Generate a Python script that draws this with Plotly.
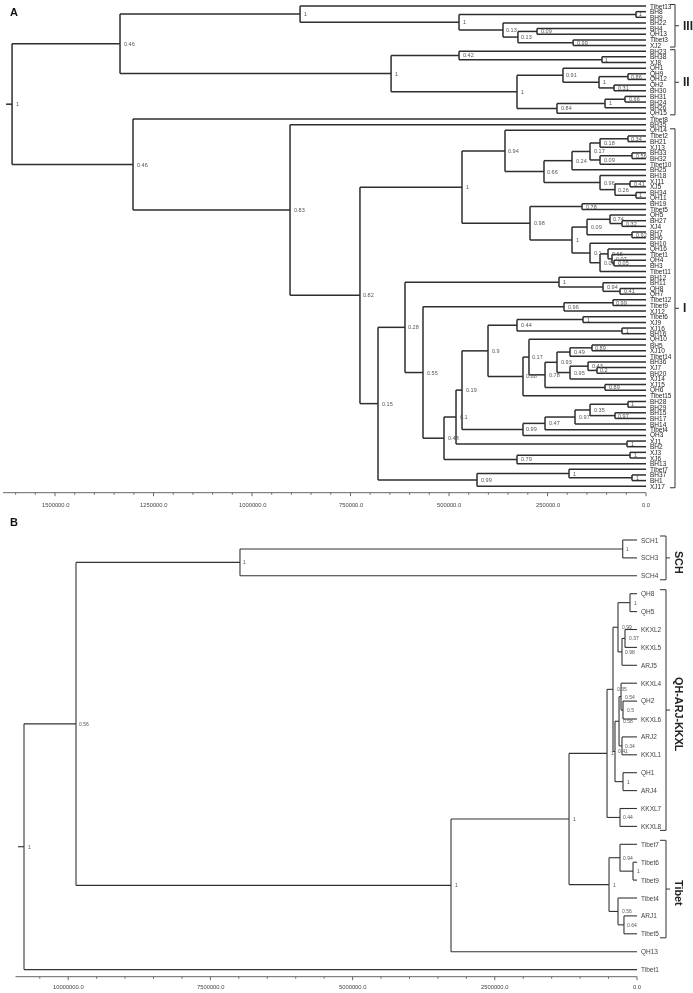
import plotly.graph_objects as go

# ---------------- Panel A data ----------------
leaves_a = ["Tibet13", "BH8", "BH9", "BH22", "BH4", "QH13", "Tibet3", "XJ2", "BH23", "BH38", "XJ8",
            "QH1", "QH9", "QH12", "QH2", "BH30", "BH31", "BH24", "BH26", "QH15", "Tibet8", "BH35",
            "QH14", "Tibet2", "BH21", "XJ13", "BH33", "BH32", "Tibet10", "BH25", "BH18", "XJ11", "XJ5",
            "BH34", "QH11", "BH19", "Tibet5", "QH5", "BH27", "XJ4", "BH7", "BH6", "BH10", "QH16",
            "Tibet1", "QH4", "BH3", "Tibet11", "BH12", "BH11", "QH8", "QH7", "Tibet12", "Tibet9",
            "XJ12", "Tibet6", "XJ9", "XJ16", "BH16", "QH10", "BH5", "XJ10", "Tibet14", "BH36", "XJ7",
            "BH20", "XJ14", "XJ15", "QH6", "Tibet15", "BH28", "BH29", "BH15", "BH17", "BH14", "Tibet4",
            "QH3", "XJ1", "BH2", "XJ3", "XJ6", "BH13", "Tibet7", "BH37", "BH1", "XJ17"]

# internal nodes (children listed before parents): name, children, height, support
nodes_a = [
    ("a1", ["BH8", "BH9"], 25400, "1"),
    ("a2", ["BH4", "QH13"], 276600, "0.09"),
    ("a3", ["Tibet3", "XJ2"], 185000, "0.99"),
    ("a4", ["a2", "a3"], 325000, "0.13"),
    ("a5", ["BH22", "a4"], 363000, "0.13"),
    ("a6", ["a1", "a5"], 474600, "1"),
    ("a7", ["Tibet13", "a6"], 878000, "1"),
    ("a8", ["BH38", "XJ8"], 111700, "1"),
    ("a9", ["BH23", "a8"], 474600, "0.42"),
    ("a10", ["QH9", "QH12"], 45700, "0.86"),
    ("a11", ["QH2", "BH30"], 81200, "0.31"),
    ("a12", ["a10", "a11"], 119300, "1"),
    ("a13", ["QH1", "a12"], 210700, "0.91"),
    ("a14", ["BH31", "BH24"], 53300, "0.66"),
    ("a15", ["a14", "BH26"], 104000, "1"),
    ("a16", ["a15", "QH15"], 225900, "0.84"),
    ("a17", ["a13", "a16"], 327400, "1"),
    ("a18", ["a9", "a17"], 647000, "1"),
    ("a19", ["a7", "a18"], 1335000, "0.46"),
    ("b1", ["Tibet2", "BH21"], 45700, "0.34"),
    ("b2", ["b1", "XJ13"], 116700, "0.18"),
    ("b3", ["BH33", "BH32"], 35500, "0.56"),
    ("b4", ["b3", "Tibet10"], 116700, "0.09"),
    ("b5", ["b2", "b4"], 142100, "0.17"),
    ("b6", ["b5", "BH25"], 187800, "0.24"),
    ("b7", ["XJ11", "XJ5"], 40600, "0.41"),
    ("b8", ["BH34", "QH11"], 25400, "1"),
    ("b9", ["b7", "b8"], 78700, "0.26"),
    ("b10", ["BH18", "b9"], 116700, "0.96"),
    ("b11", ["b6", "b10"], 258900, "0.66"),
    ("b12", ["QH14", "b11"], 357900, "0.94"),
    ("b13", ["BH19", "Tibet5"], 162400, "0.78"),
    ("b14", ["BH27", "XJ4"], 60900, "0.32"),
    ("b15", ["QH5", "b14"], 91400, "0.74"),
    ("b16", ["BH7", "BH6"], 35500, "0.92"),
    ("b17", ["b15", "b16"], 149700, "0.09"),
    ("b18", ["QH4", "BH3"], 81200, "0.05"),
    ("b19", ["Tibet1", "b18"], 86300, "0.07"),
    ("b20", ["QH16", "b19"], 96400, "0.65"),
    ("b21", ["b20", "Tibet11"], 116700, "0.05"),
    ("b22", ["BH10", "b21"], 142100, "0.1"),
    ("b23", ["b17", "b22"], 187800, "1"),
    ("b24", ["b13", "b23"], 294400, "0.98"),
    ("b25", ["b12", "b24"], 467000, "1"),
    ("c1", ["QH8", "QH7"], 66000, "0.41"),
    ("c2", ["BH11", "c1"], 109100, "0.94"),
    ("c3", ["BH12", "c2"], 220800, "1"),
    ("c4", ["Tibet12", "Tibet9"], 83800, "0.99"),
    ("c5", ["c4", "XJ12"], 208100, "0.96"),
    ("c6", ["Tibet6", "XJ9"], 159900, "1"),
    ("c7", ["XJ16", "BH16"], 60900, "1"),
    ("c8", ["c6", "c7"], 327400, "0.44"),
    ("c9", ["BH5", "XJ10"], 137100, "0.89"),
    ("c10", ["c9", "Tibet14"], 192900, "0.49"),
    ("c11", ["XJ7", "BH20"], 124400, "0.2"),
    ("c12", ["BH36", "c11"], 147200, "0.43"),
    ("c13", ["c12", "XJ14"], 192900, "0.95"),
    ("c14", ["c10", "c13"], 225900, "0.93"),
    ("c15", ["XJ15", "QH6"], 104000, "0.89"),
    ("c16", ["c14", "c15"], 256300, "0.78"),
    ("c17", ["QH10", "c16"], 297000, "0.17"),
    ("c18", ["c17", "Tibet15"], 312200, "0.88"),
    ("c19", ["c8", "c18"], 401000, "0.9"),
    ("c20", ["BH28", "BH29"], 45700, "1"),
    ("c21", ["BH15", "BH17"], 78700, "0.97"),
    ("c22", ["c20", "c21"], 142100, "0.35"),
    ("c23", ["c22", "BH14"], 180200, "0.97"),
    ("c24", ["c23", "Tibet4"], 256300, "0.47"),
    ("c25", ["c24", "QH3"], 312200, "0.99"),
    ("c26", ["c19", "c25"], 467000, "0.19"),
    ("c27", ["XJ1", "BH2"], 48200, "1"),
    ("c28", ["c26", "c27"], 482200, "0.1"),
    ("c29", ["XJ3", "XJ6"], 40600, "1"),
    ("c30", ["c29", "BH13"], 327400, "0.79"),
    ("c31", ["c28", "c30"], 512700, "0.48"),
    ("c32", ["c5", "c31"], 566000, "0.55"),
    ("c33", ["c3", "c32"], 611700, "0.28"),
    ("c34", ["BH37", "BH1"], 35500, "1"),
    ("c35", ["Tibet7", "c34"], 195400, "1"),
    ("c36", ["c35", "XJ17"], 428900, "0.99"),
    ("c37", ["c33", "c36"], 680200, "0.15"),
    ("c38", ["b25", "c37"], 726000, "0.82"),
    ("c39", ["BH35", "c38"], 903500, "0.83"),
    ("c40", ["Tibet8", "c39"], 1302000, "0.46"),
    ("rootA", ["a19", "c40"], 1609000, "1"),
]
ticks_a = [1500000, 1250000, 1000000, 750000, 500000, 250000, 0]
tick_labels_a = ["1500000.0", "1250000.0", "1000000.0", "750000.0", "500000.0", "250000.0", "0.0"]
minor_step_a = 50000
clades_a = [("III", "Tibet13", "XJ2"), ("II", "BH23", "QH15"), ("I", "QH14", "XJ17")]

# ---------------- Panel B data ----------------
leaves_b = ["SCH1", "SCH3", "SCH4", "QH8", "QH5", "KKXL2", "KKXL5", "ARJ5", "KKXL4", "QH2", "KKXL6",
            "ARJ2", "KKXL1", "QH1", "ARJ4", "KKXL7", "KKXL8", "Tibet7", "Tibet6", "Tibet9", "Tibet4",
            "ARJ1", "Tibet5", "QH13", "Tibet1"]
nodes_b = [
    ("s1", ["SCH1", "SCH3"], 251000, "1"),
    ("s2", ["s1", "SCH4"], 6980000, "1"),
    ("q1", ["QH8", "QH5"], 123000, "1"),
    ("q2", ["KKXL2", "KKXL5"], 211000, "0.37"),
    ("q3", ["q2", "ARJ5"], 264000, "0.98"),
    ("q4", ["q1", "q3"], 334000, "0.99"),
    ("q5", ["QH2", "KKXL6"], 246000, "0.5"),
    ("q6", ["KKXL4", "q5"], 281000, "0.54"),
    ("q7", ["ARJ2", "KKXL1"], 264000, "0.34"),
    ("q8", ["q6", "q7"], 316000, "0.58"),
    ("q9", ["QH1", "ARJ4"], 246000, "1"),
    ("q10", ["q8", "q9"], 387000, "0.41"),
    ("q11", ["q4", "q10"], 422000, "0.35"),
    ("q12", ["KKXL7", "KKXL8"], 299000, "0.44"),
    ("q13", ["q11", "q12"], 527000, "1"),
    ("t1", ["Tibet6", "Tibet9"], 70000, "1"),
    ("t2", ["Tibet7", "t1"], 299000, "0.94"),
    ("t3", ["ARJ1", "Tibet5"], 229000, "0.64"),
    ("t4", ["Tibet4", "t3"], 334000, "0.56"),
    ("t5", ["t2", "t4"], 492000, "1"),
    ("m1", ["q13", "t5"], 1195000, "1"),
    ("m2", ["m1", "QH13"], 3270000, "1"),
    ("m3", ["s2", "m2"], 9863000, "0.56"),
    ("rootB", ["m3", "Tibet1"], 10777000, "1"),
]
ticks_b = [10000000, 7500000, 5000000, 2500000, 0]
tick_labels_b = ["10000000.0", "7500000.0", "5000000.0", "2500000.0", "0.0"]
minor_step_b = 500000
clades_b = [("SCH", "SCH1", "SCH4"), ("QH-ARJ-KKXL", "QH8", "KKXL8"), ("Tibet", "Tibet7", "Tibet5")]

# ---------------- geometry (pixels) ----------------
W, H = 693, 993
FONT = "Liberation Sans, Arial, sans-serif"
A_ZERO, A_PXU = 646.0, 98.5 / 250000.0
A_Y0, A_DY = 6.0, 5.65
B_ZERO, B_PXU = 637.0, 142.2 / 2500000.0
B_Y0, B_DY = 540.0, 17.9


def layout_tree(leaves, nodes):
    ypos = {n: float(i) for i, n in enumerate(leaves)}
    xpos = {n: 0.0 for n in leaves}
    for name, kids, h, s in nodes:
        ypos[name] = (ypos[kids[0]] + ypos[kids[-1]]) / 2.0
        xpos[name] = h
    return xpos, ypos


def segments(nodes, xpos, ypos):
    xs, ys = [], []
    for name, kids, h, s in nodes:
        xs += [h, h, None]
        ys += [ypos[kids[0]], ypos[kids[-1]], None]
        for k in kids:
            xs += [h, xpos[k], None]
            ys += [ypos[k], ypos[k], None]
    return xs, ys


fig = go.Figure()
annotations = []


def draw_panel(leaves, nodes, ticks, tick_labels, minor_step, clades, xref, yref, y0,
               zero, pxu, dy, axis_px_y, axis_left_px, leaf_font, sup_font, lw, lcol,
               label_col, stub_px, tick_font, ax_label_dy, bracket, rotate):
    xpos, ypos = layout_tree(leaves, nodes)
    xs, ys = segments(nodes, xpos, ypos)
    root = nodes[-1]
    xs += [root[2], root[2] + stub_px / pxu, None]
    ys += [ypos[root[0]], ypos[root[0]], None]
    fig.add_trace(go.Scatter(x=xs, y=ys, mode="lines", xaxis=xref, yaxis=yref,
                             line=dict(color=lcol, width=lw), hoverinfo="skip", showlegend=False))
    for n in leaves:
        annotations.append(dict(x=0, y=ypos[n], xref=xref, yref=yref, text=n, showarrow=False,
                                xanchor="left", yanchor="middle", xshift=1.5,
                                font=dict(family=FONT, size=leaf_font, color=label_col)))
    for name, kids, h, s in nodes:
        annotations.append(dict(x=h, y=ypos[name], xref=xref, yref=yref, text=s, showarrow=False,
                                xanchor="left", yanchor="middle", xshift=1.5,
                                font=dict(family=FONT, size=sup_font, color="#555555")))
    ay = (axis_px_y - y0) / dy
    left_val = (zero - axis_left_px) / pxu
    axs, ays = [left_val, 0, None], [ay, ay, None]
    v = 0
    while v <= left_val:
        major = any(abs(v - t) < 1 for t in ticks)
        axs += [v, v, None]
        ays += [ay, ay + (3.5 if major else 2.0) / dy, None]
        v += minor_step
    fig.add_trace(go.Scatter(x=axs, y=ays, mode="lines", xaxis=xref, yaxis=yref,
                             line=dict(color="#666666", width=1), hoverinfo="skip", showlegend=False))
    for t, lab in zip(ticks, tick_labels):
        annotations.append(dict(x=t, y=ay + ax_label_dy / dy, xref=xref, yref=yref, text=lab,
                                showarrow=False, xanchor="center", yanchor="middle",
                                font=dict(family=FONT, size=tick_font, color="#444444")))
    hook0, vline, tick_end, lab_px, pad, bfont, lab_dy = bracket
    bxs, bys = [], []
    for name, first, last in clades:
        y1 = ypos[first] - pad / dy
        y2 = ypos[last] + pad / dy
        xh0 = (zero - hook0) / pxu
        xv = (zero - vline) / pxu
        xt = (zero - tick_end) / pxu
        ym = (y1 + y2) / 2
        bxs += [xh0, xv, xv, xh0, None, xv, xt, None]
        bys += [y1, y1, y2, y2, None, ym, ym, None]
        annotations.append(dict(x=(zero - lab_px) / pxu, y=ym + lab_dy / dy, xref=xref, yref=yref,
                                text="<b>%s</b>" % name,
                                showarrow=False, xanchor="left" if not rotate else "center",
                                yanchor="middle", textangle=90 if rotate else 0,
                                font=dict(family=FONT, size=bfont, color="#222222")))
    fig.add_trace(go.Scatter(x=bxs, y=bys, mode="lines", xaxis=xref, yaxis=yref,
                             line=dict(color="#333333", width=1), hoverinfo="skip", showlegend=False))


draw_panel(leaves_a, nodes_a, ticks_a, tick_labels_a, minor_step_a, clades_a, "x", "y", A_Y0,
           A_ZERO, A_PXU, A_DY, 492.7, 3.0, 6.5, 5.5, 1.5, "#2e2e2e", "#1e1e1e", 6, 5.8, 12,
           (670, 675, 679, 681, 1.5, 12, 0), False)
draw_panel(leaves_b, nodes_b, ticks_b, tick_labels_b, minor_step_b, clades_b, "x2", "y2", B_Y0,
           B_ZERO, B_PXU, B_DY, 976.7, 15.5, 6.5, 5, 1.1, "#333333", "#444444", 6, 5.8, 10.5,
           (660, 666, 670, 679, 4, 10.8, 4), True)

annotations.append(dict(x=0.02, y=1 - 12 / H, xref="paper", yref="paper", text="<b>A</b>", showarrow=False,
                        xanchor="center", yanchor="middle", font=dict(family=FONT, size=11, color="#111111")))
annotations.append(dict(x=0.02, y=1 - 522 / H, xref="paper", yref="paper", text="<b>B</b>", showarrow=False,
                        xanchor="center", yanchor="middle", font=dict(family=FONT, size=11, color="#111111")))

hidden = dict(visible=False, showgrid=False, zeroline=False, fixedrange=True)
fig.update_layout(
    width=W, height=H, margin=dict(l=0, r=0, t=0, b=0),
    paper_bgcolor="white", plot_bgcolor="white",
    xaxis=dict(range=[A_ZERO / A_PXU, (A_ZERO - W) / A_PXU], domain=[0, 1], **hidden),
    yaxis=dict(range=[(H - A_Y0) / A_DY, (0 - A_Y0) / A_DY], domain=[0, 1], **hidden),
    xaxis2=dict(range=[B_ZERO / B_PXU, (B_ZERO - W) / B_PXU], overlaying="x", **hidden),
    yaxis2=dict(range=[(H - B_Y0) / B_DY, (0 - B_Y0) / B_DY], overlaying="y", **hidden),
    annotations=annotations,
)

fig.write_html("out.html", config={"displayModeBar": False},
               post_script="document.body.style.margin='0';"
                           "document.querySelectorAll('.main-svg').forEach(function(e){"
                           "e.style.willChange='transform';});")
